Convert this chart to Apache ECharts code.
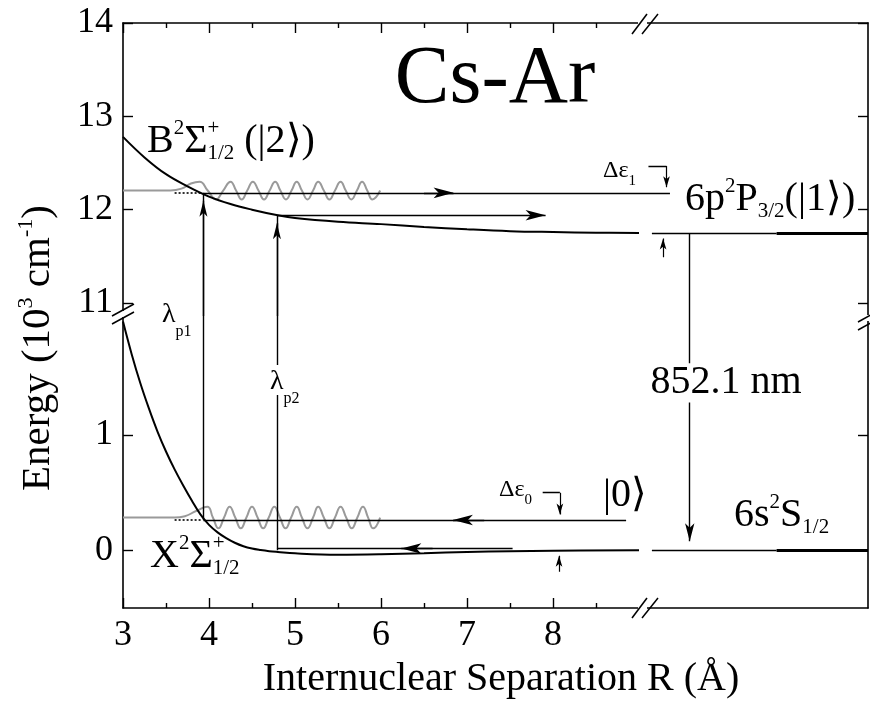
<!DOCTYPE html>
<html><head><meta charset="utf-8">
<script src="https://cdn.jsdelivr.net/npm/echarts@6/dist/echarts.min.js"></script>
<style>html,body{margin:0;padding:0;background:#fff}#c{width:870px;height:702px}</style>
</head><body><div id="c"></div>
<script>
// ---------- data (R in Å, E in 10^3 cm^-1) ----------
const xTicks = [3, 4, 5, 6, 7, 8];
const xMinorTicks = [3.5, 4.5, 5.5, 6.5, 7.5, 8.5];
const yTicksUpper = [11, 12, 13, 14];
const yTicksLower = [0, 1];

// B 2Sigma+1/2 potential (upper panel)
const R_B = [3.0, 3.25, 3.5, 3.75, 4.0, 4.25, 4.5, 4.8, 5.0, 5.5, 6.0, 6.5, 7.0, 7.5, 8.0, 8.5, 9.0];
const E_B = [12.78, 12.56, 12.38, 12.25, 12.14, 12.06, 12.0, 11.94, 11.91, 11.87, 11.845, 11.815, 11.79, 11.77, 11.76, 11.753, 11.75];
// X 2Sigma+1/2 potential (lower panel)
const R_X = [3.0, 3.1, 3.2, 3.3, 3.4, 3.5, 3.6, 3.7, 3.8, 3.9, 4.0, 4.1, 4.2, 4.3, 4.4, 4.5, 4.6, 4.7, 4.8, 5.0, 5.5, 6.0, 6.5, 7.0, 7.5, 8.0, 9.0];
const E_X = [1.98, 1.70, 1.45, 1.23, 1.03, 0.855, 0.70, 0.56, 0.43, 0.31, 0.22, 0.155, 0.105, 0.065, 0.035, 0.015, 0.002, -0.008, -0.015, -0.027, -0.038, -0.034, -0.025, -0.015, -0.008, -0.004, 0];

// schematic wave-packets (gray)
const waveUpper = [[3.0,12.205],[3.55,12.205],[3.68,12.225],[3.79,12.28],[3.89,12.30],[3.985,12.205],[4.08,12.11],[4.165,12.205],[4.25,12.30],[4.315,12.205],[4.38,12.11],[4.445,12.205],[4.51,12.30],[4.575,12.205],[4.64,12.11],[4.705,12.205],[4.77,12.30],[4.83,12.205],[4.895,12.11],[4.96,12.205],[5.02,12.30],[5.08,12.205],[5.145,12.11],[5.21,12.205],[5.27,12.30],[5.335,12.205],[5.40,12.11],[5.465,12.205],[5.53,12.30],[5.59,12.205],[5.655,12.11],[5.72,12.205],[5.78,12.30],[5.84,12.205],[5.90,12.11],[5.99,12.205]];
const waveLower = [[3.0,0.283],[3.6,0.283],[3.72,0.295],[3.85,0.34],[3.98,0.377],[4.045,0.283],[4.11,0.19],[4.175,0.283],[4.24,0.377],[4.305,0.283],[4.37,0.19],[4.435,0.283],[4.50,0.377],[4.565,0.283],[4.63,0.19],[4.695,0.283],[4.76,0.377],[4.825,0.283],[4.89,0.19],[4.955,0.283],[5.02,0.377],[5.08,0.283],[5.145,0.19],[5.21,0.283],[5.27,0.377],[5.335,0.283],[5.40,0.19],[5.465,0.283],[5.53,0.377],[5.595,0.283],[5.66,0.19],[5.725,0.283],[5.79,0.377],[5.85,0.283],[5.91,0.19],[5.99,0.283]];

// levels and transitions
const level2 = 12.18, level0 = 0.262, asymB = 11.75, asymX = 0;
const R_p1 = 3.935, R_p2 = 4.79, R_852 = 9.59;
const dottedUpper = [[3.6, 12.18], [3.92, 12.18]];
const dottedLower = [[3.6, 0.262], [3.92, 0.262]];

// ---------- layout ----------
const PL = 123, PR = 868, PT = 23, PBRK = 316, PB = 608;
const XMIN = 3, XMAX = 3 + (PR - PL) / 86;
const YU_MAX = 14, YU_MIN = 14 - (PBRK - PT) / 93.33;
const YL_MIN = -0.5, YL_MAX = -0.5 + (PB - PBRK) / 115.5;

// plain segments, upper panel
const segUpper = [
  [[R_p1, level2], [9.36, level2]],
  [[R_p1, YU_MIN], [R_p1, level2]],
  [[R_p2, YU_MIN], [R_p2, 11.94]],
  [[9.11, 12.468], [9.32, 12.468]],
  [[R_852, asymB], [R_852, YU_MIN]],
  [[9.15, asymB], [10.6, asymB]]
];
const thickUpper = [[[10.6, asymB], [XMAX, asymB]]];
// arrows upper: [from, tip]
const arrowsUpperH = [[[6.5, level2], [6.96, level2]], [[R_p2, 11.94], [8.03, 11.94]]];
const arrowsUpperV = [[[R_p1, YU_MIN], [R_p1, level2]], [[R_p2, YU_MIN], [R_p2, 11.94]]];
const arrowsUpperS = [[[9.32, 12.468], [9.32, level2]], [[9.28, 11.49], [9.28, asymB]]];

// plain segments, lower panel
const segLower = [
  [[R_p1, level0], [8.85, level0]],
  [[R_p2, 0.015], [7.53, 0.015]],
  [[R_p1, level0], [R_p1, YL_MAX]],
  [[R_p2, 0], [R_p2, 1.344]],
  [[R_p2, 1.604], [R_p2, YL_MAX]],
  [[7.88, 0.498], [8.08, 0.498]],
  [[R_852, YL_MAX], [R_852, 1.62]],
  [[9.15, asymX], [10.6, asymX]]
];
const thickLower = [[[10.6, asymX], [XMAX, asymX]]];
const arrowsLowerH = [[[7.2, level0], [6.72, level0]], [[6.6, 0.015], [6.12, 0.015]]];
const arrowsLowerB = [[[R_852, 1.28], [R_852, 0]]];
const arrowsLowerS = [[[8.08, 0.498], [8.08, level0]], [[8.07, -0.186], [8.07, 0]]];

// ---------- helpers ----------
const FF = '"Liberation Serif","Times New Roman",serif';
const BLACK = '#000', GRAY = '#9a9a9a';
const ux = (XMAX - XMIN) / (PR - PL);
const uyU = (YU_MAX - YU_MIN) / (PBRK - PT);
const uyL = (YL_MAX - YL_MIN) / (PB - PBRK);
function shorten(from, tip, hPx, grid) {
  const uy = grid === 0 ? uyU : uyL;
  const dxp = (tip[0] - from[0]) / ux, dyp = (tip[1] - from[1]) / uy;
  const L = Math.hypot(dxp, dyp), k = (hPx / 2) / L;
  return [from, [tip[0] - (tip[0] - from[0]) * k, tip[1] - (tip[1] - from[1]) * k]];
}
function curve(g, pts, style, smooth) {
  return {type: 'line', xAxisIndex: g * 2, yAxisIndex: g * 2, data: pts, smooth: smooth || false,
    showSymbol: false, symbol: 'none', lineStyle: style, silent: true, z: 3, animation: false};
}
function segs(g, list, width, color, dash) {
  return {type: 'lines', coordinateSystem: 'cartesian2d', xAxisIndex: g * 2, yAxisIndex: g * 2,
    symbol: 'none', silent: true, z: 4,
    lineStyle: {color: color || BLACK, width: width, opacity: 1, curveness: 0, type: dash || 'solid'},
    data: list.map(s => ({coords: s}))};
}
function arrows(g, list, w, h, width) {
  return {type: 'lines', coordinateSystem: 'cartesian2d', xAxisIndex: g * 2, yAxisIndex: g * 2,
    symbol: ['none', 'arrow'], symbolSize: [1, [w, h]], silent: true, z: 5,
    lineStyle: {color: BLACK, width: width, opacity: 1, curveness: 0},
    data: list.map(a => ({coords: shorten(a[0], a[1], h, g)}))};
}
const pairs = (xs, ys) => xs.map((x, i) => [x, ys[i]]);

const axisLine = {show: true, onZero: false, lineStyle: {color: BLACK, width: 1.6}};
const lbl = {color: BLACK, fontFamily: FF, fontSize: 36};
function xAx(g, pos, major, withLabel) {
  return {type: 'value', gridIndex: g, position: pos, min: XMIN, max: XMAX,
    axisLine: major ? axisLine : {show: false, onZero: false},
    axisTick: {show: true, inside: true, length: major ? 10 : 5, lineStyle: {color: BLACK, width: 1.4},
      customValues: major ? xTicks : xMinorTicks},
    axisLabel: withLabel ? Object.assign({show: true, margin: 10, customValues: xTicks}, lbl) : {show: false},
    splitLine: {show: false}};
}
function yAx(g, pos, ticks, mn, mx) {
  return {type: 'value', gridIndex: g, position: pos, min: mn, max: mx,
    axisLine: axisLine,
    axisTick: {show: true, inside: true, length: 10, lineStyle: {color: BLACK, width: 1.4}, customValues: ticks},
    axisLabel: pos === 'left' ? Object.assign({show: true, margin: 10, customValues: ticks}, lbl) : {show: false},
    splitLine: {show: false}};
}

// rich text styles
function R(size, lh, va, extra) { return Object.assign({fontSize: size, fontFamily: FF, fill: BLACK, lineHeight: lh, verticalAlign: va || 'middle'}, extra || {}); }
const bigRich = {m: R(40, 46), sp: R(21, 20, 'top'), sp0: R(21, 20, 'top', {width: 0}), sb: R(21, 14, 'bottom')};
const titleRich = {m: R(41, 46), sp: R(22, 20, 'top')};
const lamRich = {m: R(28, 50), sb: R(16, 12, 'bottom')};
const deRich = {m: R(24, 36), sb: R(15, 10, 'bottom')};
function txt(x, y, text, rich, align, extra) {
  return Object.assign({type: 'text', x: x, y: y, z: 100, silent: true,
    style: {text: text, rich: rich, fontFamily: FF, fill: BLACK, align: align || 'left', verticalAlign: 'middle'}}, extra || {});
}
function ln(x1, y1, x2, y2, w) { return {type: 'line', z: 101, silent: true, shape: {x1, y1, x2, y2}, style: {stroke: BLACK, lineWidth: w || 1.5}}; }
function wrect(x, y, w, h) { return {type: 'rect', z: 100, silent: true, shape: {x, y, width: w, height: h}, style: {fill: '#fff'}}; }

const graphics = [
  txt(495, 80, 'Cs-Ar', null, 'center', {style: {text: 'Cs-Ar', fontFamily: FF, fontSize: 82, fill: BLACK, align: 'center', verticalAlign: 'middle'}}),
  txt(147, 141, '{m|B}{sp|2}{m|Σ}{sp0|+}{sb|1/2}{m| (|2⟩)}', bigRich),
  txt(150, 556, '{m|X}{sp|2}{m|Σ}{sp0|+}{sb|1/2}', bigRich),
  txt(685, 199, '{m|6p}{sp|2}{m|P}{sb|3/2}{m|(|1⟩)}', bigRich),
  txt(734, 515, '{m|6s}{sp|2}{m|S}{sb|1/2}', bigRich),
  txt(603, 495, '{m||0⟩}', bigRich),
  txt(726, 382, '{m|852.1 nm}', bigRich, 'center'),
  txt(162, 315, '{m|λ}{sb|p1}', lamRich),
  txt(270, 382, '{m|λ}{sb|p2}', lamRich),
  txt(603, 171, '{m|Δε}{sb|1}', deRich),
  txt(499, 490, '{m|Δε}{sb|0}', deRich),
  txt(501, 679, '{m|Internuclear Separation R (Å)}', bigRich, 'center'),
  txt(38, 348, '{m|Energy (10}{sp|3}{m| cm}{sp|-1}{m|)}', titleRich, 'center', {rotation: Math.PI / 2}),
  // axis breaks
  wrect(119, 311, 8, 6), ln(112, 316, 134, 304), ln(112, 324, 134, 312),
  wrect(864, 315, 8, 6), ln(858, 322, 880, 310), ln(858, 330, 880, 318),
  wrect(638, 20, 9, 6), ln(632, 34, 647, 14), ln(642, 34, 658, 14),
  wrect(638, 604, 9, 6), ln(632, 618, 647, 598), ln(642, 618, 658, 598)
];

const option = {
  animation: false,
  backgroundColor: '#fff',
  grid: [
    {left: PL, right: 870 - PR, top: PT, height: PBRK - PT},
    {left: PL, right: 870 - PR, top: PBRK, height: PB - PBRK}
  ],
  xAxis: [xAx(0, 'top', true, false), xAx(0, 'top', false, false), xAx(1, 'bottom', true, true), xAx(1, 'bottom', false, false)],
  yAxis: [yAx(0, 'left', yTicksUpper, YU_MIN, YU_MAX), yAx(0, 'right', yTicksUpper, YU_MIN, YU_MAX),
          yAx(1, 'left', yTicksLower, YL_MIN, YL_MAX), yAx(1, 'right', yTicksLower, YL_MIN, YL_MAX)],
  series: [
    curve(0, waveUpper, {color: GRAY, width: 2}, 0.5),
    curve(1, waveLower, {color: GRAY, width: 2}, 0.5),
    curve(0, pairs(R_B, E_B), {color: BLACK, width: 2}, 0.4),
    curve(1, pairs(R_X, E_X), {color: BLACK, width: 2}, 0.4),
    segs(0, [dottedUpper], 1.6, BLACK, [2, 2]),
    segs(1, [dottedLower], 1.6, BLACK, [2, 2]),
    segs(0, segUpper, 1.4),
    segs(1, segLower, 1.4),
    segs(0, thickUpper, 3.2),
    segs(1, thickLower, 3.2),
    arrows(0, arrowsUpperH, 8, 20, 1.4),
    arrows(1, arrowsLowerH, 8, 20, 1.4),
    arrows(0, arrowsUpperV, 6, 16, 1.4),
    arrows(1, arrowsLowerB, 7, 18, 1.4),
    arrows(0, arrowsUpperS, 5, 11, 1.2),
    arrows(1, arrowsLowerS, 5, 11, 1.2)
  ],
  graphic: graphics
};
const chart = echarts.init(document.getElementById('c'));
chart.setOption(option);
</script>
</body></html>
